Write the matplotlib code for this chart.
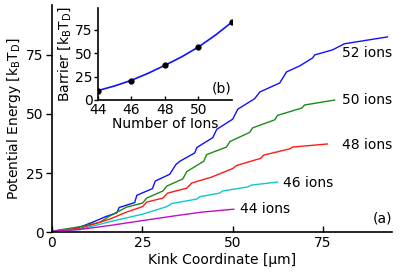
import matplotlib
matplotlib.use("Agg")
import matplotlib.pyplot as plt

# potential energy along the kink coordinate, one trace per chain length
x52 = [0, 6.0, 9.1, 12.7, 14.6, 18.0, 18.6, 22.9, 23.5, 27.8, 28.6, 32.6, 34.3, 35.4,
       39.5, 40.1, 44.5, 45.6, 50.0, 51.4, 56.1, 57.5, 63.0, 64.9, 68.5, 72.1, 72.7,
       77.6, 80.9, 92.8]
y52 = [0.4, 1.3, 2.9, 5.1, 6.4, 8.2, 10.4, 12.5, 15.6, 18.4, 21.6, 24.5, 28.6, 30.0,
       33.5, 35.8, 40.0, 43.5, 47.8, 52.0, 56.5, 59.3, 63.1, 67.8, 70.3, 73.7, 75.0,
       77.1, 79.7, 82.6]
x50 = [0, 8.6, 13.3, 16.0, 20.7, 25.1, 26.2, 30.7, 31.8, 36.2, 37.3, 42.0, 42.8, 48.3,
       49.2, 54.7, 55.5, 61.6, 62.4, 69.1, 69.9, 78.2]
y50 = [0.4, 2.5, 4.2, 6.8, 10.6, 12.3, 14.4, 17.4, 19.5, 22.5, 25.6, 30.0, 32.8, 36.0,
       38.3, 42.2, 44.1, 47.5, 49.4, 52.5, 53.8, 55.9]
x48 = [0, 7.7, 16.0, 20.7, 25.1, 26.2, 30.7, 32.0, 37.3, 38.7, 44.2, 50.0, 51.1, 57.7,
       58.6, 65.7, 66.6, 76.2]
y48 = [0.4, 1.5, 5.5, 8.5, 10.8, 12.7, 14.4, 16.5, 18.6, 20.8, 23.3, 26.9, 28.2, 31.2,
       32.6, 35.2, 36.0, 37.3]
x46 = [0, 7.7, 16.0, 25.1, 31.8, 33.1, 40.1, 40.9, 46.4, 47.2, 54.1, 55.2, 62.4]
y46 = [0.4, 1.1, 4.4, 7.6, 10.8, 12.1, 14.0, 15.0, 16.5, 17.4, 19.1, 19.9, 21.2]
x44 = [0, 7.7, 16.0, 25.1, 34.5, 41.7, 50.3]
y44 = [0.4, 1.1, 2.8, 4.9, 7.0, 8.5, 9.7]

# barrier vs number of ions (inset)
n_ions = [44, 46, 48, 50, 52]
barrier = [9.6, 20.7, 37.0, 56.0, 83.0]
fit_n = [44, 45, 46, 47, 48, 49, 50, 51, 52]
fit_barrier = [10, 15, 21, 28.5, 37, 46, 56.5, 69, 83]

traces = [
    (x52, y52, "#1010ff", "52 ions", (80.1, 75.8)),
    (x50, y50, "#1a8c1a", "50 ions", (80.1, 55.9)),
    (x48, y48, "#ff1a1a", "48 ions", (80.1, 36.9)),
    (x46, y46, "#10c8c8", "46 ions", (63.8, 20.8)),
    (x44, y44, "#c010c0", "44 ions", (51.9, 9.7)),
]

plt.rcParams["font.size"] = 10

fig = plt.figure(figsize=(4.15, 2.77), dpi=100)
ax = fig.add_axes([0.125, 0.162, 0.819, 0.819])
for xs, ys, c, lab, pos in traces:
    ax.plot(xs, ys, color=c, lw=1.0)
    ax.text(pos[0], pos[1], lab, va="center", ha="left")
ax.set_xlim(0, 94)
ax.set_ylim(0, 96)
ax.set_xticks([0, 25, 50, 75])
ax.set_yticks([0, 25, 50, 75])
ax.set_xlabel("Kink Coordinate [μm]", labelpad=2)
ax.set_ylabel(r"Potential Energy [k$_\mathrm{B}$T$_\mathrm{D}$]", labelpad=2)
ax.text(1.0, 0.06, "(a)", transform=ax.transAxes, ha="right", va="center")
for s in ["top", "right"]:
    ax.spines[s].set_visible(False)
for s in ["left", "bottom"]:
    ax.spines[s].set_linewidth(1.2)
ax.tick_params(axis="x", direction="in", length=4, width=1, pad=3)
ax.tick_params(axis="y", direction="out", length=4, width=1, pad=2)

ins = fig.add_axes([0.236, 0.639, 0.323, 0.332])
ins.plot(fit_n, fit_barrier, color="#1010ff", lw=1.2)
ins.plot(n_ions, barrier, "o", color="black", ms=3.5)
ins.set_xlim(44, 52)
ins.set_ylim(0, 98)
ins.set_xticks([44, 46, 48, 50])
ins.set_yticks([0, 25, 50, 75])
ins.set_xlabel("Number of Ions", labelpad=0)
ins.set_ylabel(r"Barrier [k$_\mathrm{B}$T$_\mathrm{D}$]", labelpad=1)
ins.text(1.0, 0.13, "(b)", transform=ins.transAxes, ha="right", va="center")
for s in ["top", "right"]:
    ins.spines[s].set_visible(False)
for s in ["left", "bottom"]:
    ins.spines[s].set_linewidth(1.2)
ins.tick_params(axis="x", direction="in", length=3, width=1, pad=2)
ins.tick_params(axis="y", direction="out", length=3, width=1, pad=1)

fig.savefig("out.png", dpi=100)
